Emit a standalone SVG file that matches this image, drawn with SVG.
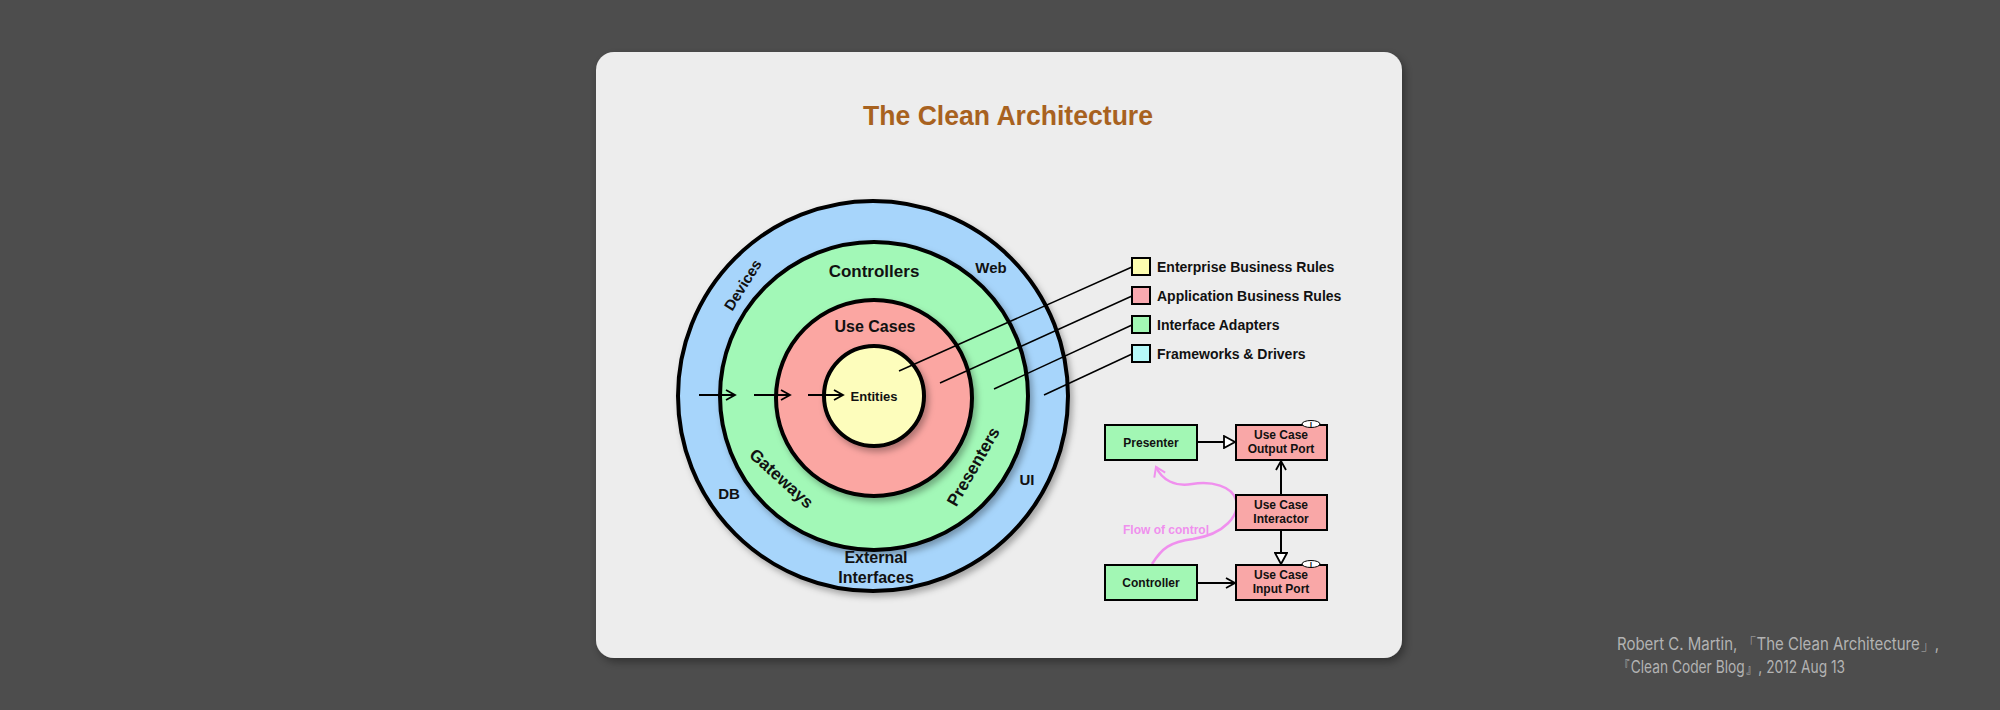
<svg xmlns="http://www.w3.org/2000/svg" width="2000" height="710" viewBox="0 0 2000 710">
<style>
.b{font-family:"Liberation Sans",Arial,sans-serif;font-weight:bold;fill:#111}
.c{stroke:#000;stroke-width:4}
.box{stroke:#000;stroke-width:2}
.ln{stroke:#000;stroke-width:1.5;fill:none}
.ar{stroke:#000;stroke-width:2;fill:none}
.lg{font-family:"Liberation Sans",Arial,sans-serif;font-weight:bold;font-size:14px;fill:#111}
.sm{font-family:"Liberation Sans",Arial,sans-serif;font-weight:bold;font-size:12px;fill:#111;text-anchor:middle}
</style>
<defs>
<filter id="sh" x="-10%" y="-10%" width="130%" height="130%"><feDropShadow dx="3" dy="4" stdDeviation="4" flood-color="#000" flood-opacity="0.35"/></filter>
<filter id="cs" x="-10%" y="-10%" width="130%" height="130%"><feDropShadow dx="3" dy="4" stdDeviation="3" flood-color="#000" flood-opacity="0.3"/></filter>
<marker id="open" markerWidth="12" markerHeight="12" refX="10" refY="6" orient="auto" markerUnits="userSpaceOnUse"><path d="M1,1 L10,6 L1,11" fill="none" stroke="#000" stroke-width="1.8"/></marker>
<marker id="tri" markerWidth="14" markerHeight="14" refX="12" refY="7" orient="auto" markerUnits="userSpaceOnUse"><path d="M1,1 L12,7 L1,13 Z" fill="#fff" stroke="#000" stroke-width="1.8"/></marker>
<marker id="pk" markerWidth="14" markerHeight="14" refX="10" refY="7" orient="auto" markerUnits="userSpaceOnUse"><path d="M1,1 L10,7 L1,13" fill="none" stroke="#f090ee" stroke-width="2"/></marker>
</defs>
<rect width="2000" height="710" fill="#4d4d4d"/>
<rect x="596" y="52" width="806" height="606" rx="18" fill="#ededed" filter="url(#sh)"/>
<text x="1008" y="125" text-anchor="middle" font-family="Liberation Sans Narrow,Liberation Sans,sans-serif" font-size="28" fill="#a8621f" font-weight="bold" textLength="290" lengthAdjust="spacingAndGlyphs">The Clean Architecture</text>

<g id="circles">
<circle cx="873" cy="396" r="195" fill="#a7d5fb" class="c" filter="url(#cs)"/>
<circle cx="874" cy="396" r="154" fill="#a2f8b7" class="c" filter="url(#cs)"/>
<circle cx="874" cy="398" r="98" fill="#fba6a2" class="c" filter="url(#cs)"/>
<circle cx="874" cy="396" r="50" fill="#fdfdbc" class="c" filter="url(#cs)"/>
</g>
<g id="circle-labels">
<text class="b" x="874" y="277" font-size="17" text-anchor="middle">Controllers</text>
<text class="b" x="875" y="332" font-size="16" text-anchor="middle">Use Cases</text>
<text class="b" x="874" y="401" font-size="13" text-anchor="middle">Entities</text>
<text class="b" x="991" y="273" font-size="15" text-anchor="middle">Web</text>
<text class="b" x="743" y="290" font-size="15" text-anchor="middle" transform="rotate(-58 743 285)">Devices</text>
<text class="b" x="781" y="484" font-size="17" text-anchor="middle" transform="rotate(42 781 479)">Gateways</text>
<text class="b" x="974" y="472" font-size="17" text-anchor="middle" transform="rotate(-60 974 467)">Presenters</text>
<text class="b" x="1027" y="485" font-size="15" text-anchor="middle">UI</text>
<text class="b" x="729" y="499" font-size="15" text-anchor="middle">DB</text>
<text class="b" x="876" y="563" font-size="16" text-anchor="middle">External</text>
<text class="b" x="876" y="583" font-size="16" text-anchor="middle">Interfaces</text>
</g>

<g id="legend">
<rect x="1132" y="258" width="18" height="17" fill="#fdfdb0" class="box"/>
<rect x="1132" y="287" width="18" height="17" fill="#f9a9b0" class="box"/>
<rect x="1132" y="316" width="18" height="17" fill="#a2f7b4" class="box"/>
<rect x="1132" y="345" width="18" height="17" fill="#b6f9f9" class="box"/>
<text class="lg" x="1157" y="272">Enterprise Business Rules</text>
<text class="lg" x="1157" y="301">Application Business Rules</text>
<text class="lg" x="1157" y="330">Interface Adapters</text>
<text class="lg" x="1157" y="359">Frameworks &amp; Drivers</text>
</g>

<g id="connectors">
<line class="ln" x1="1132" y1="267" x2="899" y2="371"/>
<line class="ln" x1="1132" y1="296" x2="940" y2="383"/>
<line class="ln" x1="1132" y1="325" x2="994" y2="389"/>
<line class="ln" x1="1132" y1="354" x2="1044" y2="395"/>
<line class="ar" x1="699" y1="395" x2="735" y2="395" marker-end="url(#open)"/>
<line class="ar" x1="754" y1="395" x2="790" y2="395" marker-end="url(#open)"/>
<line class="ar" x1="808" y1="395" x2="843" y2="395" marker-end="url(#open)"/>
<line class="ar" x1="1197" y1="442" x2="1235" y2="442" marker-end="url(#tri)"/>
<line class="ar" x1="1281" y1="495" x2="1281" y2="461" marker-end="url(#open)"/>
<line class="ar" x1="1281" y1="530" x2="1281" y2="564" marker-end="url(#tri)"/>
<line class="ar" x1="1197" y1="583" x2="1235" y2="583" marker-end="url(#open)"/>
<path d="M1152,564 C1162,548 1170,542 1193,539 C1225,534 1240,515 1236,500 C1232,486 1212,481 1192,484 C1175,487 1162,480 1156,467" fill="none" stroke="#f090ee" stroke-width="2.5" marker-end="url(#pk)"/>
</g>

<g id="presenter"><rect x="1105" y="425" width="92" height="35" fill="#a2f7b4" class="box"/><text class="sm" x="1151" y="447">Presenter</text></g>
<g id="output-port"><rect x="1236" y="425" width="91" height="35" fill="#f9a7a7" class="box"/><text class="sm" x="1281" y="439">Use Case</text><text class="sm" x="1281" y="453">Output Port</text>
<ellipse cx="1311" cy="424" rx="9" ry="3.5" fill="#fff" stroke="#000" stroke-width="1"/><text x="1311" y="427" font-size="7" text-anchor="middle" font-family="Liberation Sans,sans-serif" font-weight="bold">I</text></g>
<g id="interactor"><rect x="1236" y="495" width="91" height="35" fill="#f9a7a7" class="box"/><text class="sm" x="1281" y="509">Use Case</text><text class="sm" x="1281" y="523">Interactor</text></g>
<g id="input-port"><rect x="1236" y="565" width="91" height="35" fill="#f9a7a7" class="box"/><text class="sm" x="1281" y="579">Use Case</text><text class="sm" x="1281" y="593">Input Port</text>
<ellipse cx="1311" cy="564" rx="9" ry="3.5" fill="#fff" stroke="#000" stroke-width="1"/><text x="1311" y="567" font-size="7" text-anchor="middle" font-family="Liberation Sans,sans-serif" font-weight="bold">I</text></g>
<g id="controller"><rect x="1105" y="565" width="92" height="35" fill="#a2f7b4" class="box"/><text class="sm" x="1151" y="587">Controller</text></g>
<text x="1166" y="534" text-anchor="middle" font-family="Liberation Sans,sans-serif" font-weight="bold" font-size="12" fill="#f090ee">Flow of control</text>

<g font-family="Inter,sans-serif" font-size="17" fill="#b3b3b3">
<text x="1617" y="650" textLength="322" lengthAdjust="spacingAndGlyphs">Robert C. Martin, 「The Clean Architecture」,</text>
<text x="1617" y="673" textLength="228" lengthAdjust="spacingAndGlyphs">『Clean Coder Blog』, 2012 Aug 13</text>
</g>
</svg>
